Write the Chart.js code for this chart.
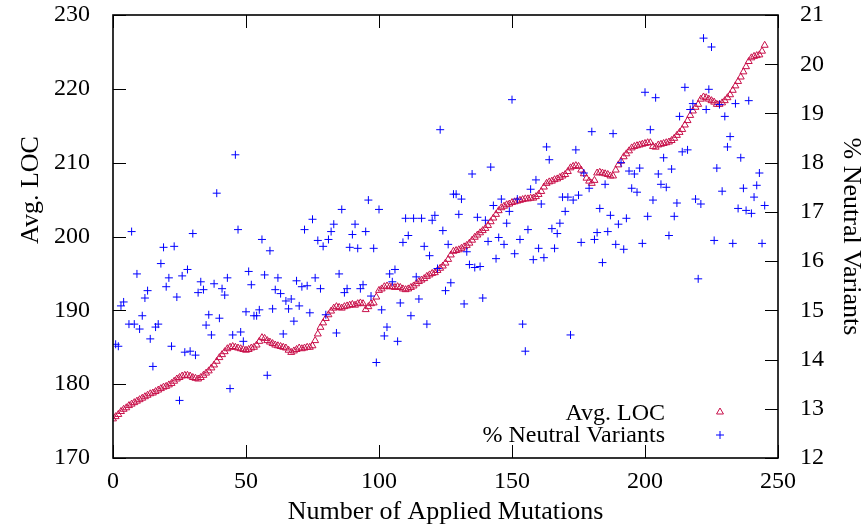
<!DOCTYPE html>
<html>
<head>
<meta charset="utf-8">
<script src="https://cdn.jsdelivr.net/npm/chart.js@4/dist/chart.umd.min.js"></script>
<style>
html,body{margin:0;padding:0;background:#fff;}
#wrap{width:864px;height:529px;position:relative;}
</style>
</head>
<body>
<div id="wrap"><canvas id="c" width="864" height="529"></canvas></div>
<script>
// ---- data ----
const xTitle = "Number of Applied Mutations";
const yTitle = "Avg. LOC";
const y2Title = "% Neutral Variants";
const legendLabels = ["Avg. LOC", "% Neutral Variants"];

// Avg. LOC, one value per mutation count 0..245
const avgLoc = [
175.3,175.6,175.9,176.3,176.6,176.8,177.1,177.3,177.5,177.7,
177.9,178.1,178.3,178.5,178.7,178.8,179.0,179.2,179.4,179.6,
179.7,179.9,180.1,180.4,180.7,180.9,181.1,181.2,181.2,181.1,
180.9,180.8,180.7,180.9,181.2,181.5,181.8,182.2,182.6,183.1,
183.6,184.0,184.4,184.8,185.0,185.1,185.0,184.9,184.8,184.7,
184.6,184.7,184.9,185.0,185.3,185.8,186.3,186.2,185.9,185.7,
185.5,185.3,185.2,185.1,185.0,184.9,184.6,184.3,184.5,184.7,
184.9,184.8,184.9,185.0,185.0,185.2,185.9,186.8,187.7,188.3,
188.9,189.4,189.9,190.3,190.5,190.4,190.3,190.5,190.6,190.7,
190.8,190.7,190.9,191.0,190.9,190.1,190.5,190.9,191.0,191.8,
192.7,192.9,193.2,193.3,193.2,193.2,193.1,193.2,193.1,192.9,
192.8,192.9,193.1,193.3,193.6,193.9,194.1,194.3,194.6,194.8,
195.0,195.1,195.4,195.7,196.0,196.4,196.9,197.5,198.0,198.1,
198.2,198.4,198.6,198.8,199.1,199.5,199.9,200.2,200.5,200.8,
201.1,201.5,202.0,202.5,203.0,203.5,203.9,204.1,204.3,204.4,
204.6,204.7,204.8,204.9,205.0,205.1,205.1,205.2,205.2,205.4,
205.7,206.1,206.7,207.2,207.4,207.5,207.7,207.8,208.0,208.2,
208.4,208.8,209.3,209.5,209.6,209.5,209.0,208.5,207.9,207.5,
207.2,207.6,208.6,208.7,208.6,208.5,208.4,208.2,208.2,209.0,
209.7,210.2,210.8,211.2,211.6,212.0,212.2,212.3,212.4,212.5,
212.6,212.7,212.7,212.2,212.1,212.4,212.5,212.6,212.7,212.8,
213.0,213.3,213.7,214.1,214.5,215.1,215.7,216.4,217.0,217.5,
217.9,218.6,218.9,218.8,218.6,218.4,218.2,217.9,217.9,218.1,
218.4,218.8,219.2,219.8,220.4,221.0,221.6,222.3,223.0,223.7,
224.2,224.4,224.5,224.6,225.1,225.9
];

// % Neutral Variants: mutation counts and values
const neutralX = [
1,2,3,4,6,7,8,9,10,11,12,13,14,15,16,17,18,19,20,21,
22,23,24,25,26,27,28,29,30,31,32,33,34,35,36,37,38,39,40,41,
42,43,44,45,46,47,48,49,50,51,52,53,54,55,56,57,58,59,60,61,
62,63,64,65,66,67,68,69,70,71,72,73,74,75,76,77,78,79,80,81,
82,83,84,85,86,87,88,89,90,91,92,93,94,95,96,97,98,99,100,101,
102,103,104,105,106,107,108,109,110,111,112,113,114,115,116,117,118,119,120,121,
122,123,124,125,126,127,128,129,130,131,132,133,134,135,136,137,138,139,140,141,
142,143,144,145,146,147,148,149,150,151,152,153,154,155,156,157,158,159,160,161,
162,163,164,165,166,167,168,169,170,171,172,173,174,175,176,177,179,180,181,182,
183,184,185,186,187,188,189,190,191,192,193,194,195,196,197,198,199,200,201,202,
203,204,205,206,207,208,209,210,211,212,213,214,215,216,217,218,219,220,221,222,
223,224,225,226,227,228,229,230,231,232,233,234,235,236,237,238,239,240,241,242,
243,244,245
];
const neutralY = [
14.31,14.27,15.09,15.17,14.72,16.60,14.72,15.74,14.62,14.89,15.25,15.40,14.42,13.86,14.66,14.72,15.95,16.28,15.48,15.66,
14.27,16.30,15.27,13.17,15.70,14.15,15.83,14.17,16.56,14.09,15.36,15.58,15.42,14.70,14.91,14.50,15.54,17.38,14.84,15.44,
15.31,15.66,13.41,14.50,18.16,16.64,14.56,14.37,14.97,15.79,15.52,14.89,14.89,15.01,16.44,15.72,13.68,16.21,15.03,15.42,
15.66,15.34,14.52,15.19,15.03,15.23,14.78,15.60,15.09,15.48,16.64,15.50,14.95,16.85,15.66,16.42,15.44,16.30,14.91,16.44,
16.60,16.75,14.54,15.74,17.05,15.36,15.44,16.28,16.54,16.75,16.26,15.44,15.52,16.60,17.24,15.29,16.26,13.94,17.05,15.01,
14.48,14.66,15.74,15.58,15.83,14.37,15.15,16.38,16.87,16.52,14.89,16.87,15.68,15.23,16.87,16.30,14.72,16.11,16.83,16.93,
15.85,18.67,16.62,15.40,16.34,15.56,17.36,17.36,16.95,17.26,15.13,16.19,15.93,17.77,15.87,16.89,15.89,15.25,16.83,16.40,
17.91,17.13,16.05,16.48,17.26,16.34,16.77,17.01,19.28,16.15,17.26,16.44,14.72,14.17,16.64,17.46,16.03,17.65,16.26,17.16,
16.07,18.32,18.06,16.66,16.26,16.56,16.77,17.30,17.01,17.30,14.50,17.24,18.26,17.34,16.38,17.79,17.48,18.63,16.44,16.58,
17.07,15.97,17.56,16.60,16.93,18.59,16.34,16.75,18.00,16.24,16.87,17.83,17.48,17.77,17.40,17.89,16.36,19.43,16.91,18.67,
17.24,19.32,17.77,17.56,18.10,17.50,16.52,17.87,16.91,17.18,18.94,18.22,19.53,18.26,19.08,19.20,17.26,15.64,17.16,20.53,
19.08,19.49,20.35,16.42,17.89,19.18,17.42,18.94,18.32,18.53,16.36,19.20,17.07,18.10,17.48,17.03,19.26,16.97,17.30,17.54,
17.79,16.36,17.13
];

const xTicks = [0, 50, 100, 150, 200, 250];
const yTicks = [170, 180, 190, 200, 210, 220, 230];
const y2Ticks = [12, 13, 14, 15, 16, 17, 18, 19, 20, 21];

// ---- styling ----
const FONT = "'Liberation Serif', 'Times New Roman', serif";
const RED = '#c8104a';
const BLUE = '#0000ff';

const locPoints = avgLoc.map((v, i) => ({x: i, y: v}));
const neutralPoints = neutralX.map((x, i) => ({x: x, y: neutralY[i]}));

const framePlugin = {
  id: 'frame',
  afterDraw(chart) {
    const ctx = chart.ctx;
    const a = chart.chartArea;
    const sx = chart.scales.x, sy = chart.scales.y, sy2 = chart.scales.y2;
    ctx.save();
    ctx.strokeStyle = '#000';
    ctx.lineWidth = 1;
    const TL = 13;
    ctx.beginPath();
    xTicks.forEach(t => {
      const px = Math.round(sx.getPixelForValue(t)) + 0.5;
      ctx.moveTo(px, a.bottom); ctx.lineTo(px, a.bottom - TL);
      ctx.moveTo(px, a.top); ctx.lineTo(px, a.top + TL);
    });
    yTicks.forEach(t => {
      const py = Math.round(sy.getPixelForValue(t)) + 0.5;
      ctx.moveTo(a.left, py); ctx.lineTo(a.left + TL, py);
    });
    y2Ticks.forEach(t => {
      const py = Math.round(sy2.getPixelForValue(t)) + 0.5;
      ctx.moveTo(a.right, py); ctx.lineTo(a.right - TL, py);
    });
    ctx.stroke();
    ctx.lineWidth = 1.6;
    ctx.strokeRect(a.left, a.top, a.right - a.left, a.bottom - a.top);

    ctx.fillStyle = '#000';
    ctx.font = '26px ' + FONT;
    ctx.textAlign = 'center';
    ctx.textBaseline = 'middle';
    ctx.fillText(xTitle, (a.left + a.right) / 2, 512);
    ctx.save();
    ctx.translate(31, 190);
    ctx.rotate(-Math.PI / 2);
    ctx.fillText(yTitle, 0, 0);
    ctx.restore();
    ctx.save();
    ctx.translate(851, (a.top + a.bottom) / 2);
    ctx.rotate(Math.PI / 2);
    ctx.fillText(y2Title, 0, 0);
    ctx.restore();

    ctx.font = '24px ' + FONT;
    ctx.textAlign = 'right';
    ctx.textBaseline = 'alphabetic';
    ctx.fillText(legendLabels[0], 665, 420);
    ctx.fillText(legendLabels[1], 665, 442);
    ctx.lineWidth = 1;
    const r = 4, tx = 720, ty = 412;
    ctx.strokeStyle = RED;
    ctx.beginPath();
    ctx.moveTo(tx, ty - r);
    ctx.lineTo(tx + r * Math.sin(2 * Math.PI / 3), ty - r * Math.cos(2 * Math.PI / 3));
    ctx.lineTo(tx + r * Math.sin(4 * Math.PI / 3), ty - r * Math.cos(4 * Math.PI / 3));
    ctx.closePath();
    ctx.stroke();
    ctx.strokeStyle = BLUE;
    ctx.beginPath();
    ctx.moveTo(716, 435); ctx.lineTo(724, 435);
    ctx.moveTo(720, 431); ctx.lineTo(720, 439);
    ctx.stroke();
    ctx.restore();
  }
};

new Chart(document.getElementById('c'), {
  type: 'scatter',
  data: {
    datasets: [
      {
        label: legendLabels[0],
        data: locPoints,
        yAxisID: 'y',
        pointStyle: 'triangle',
        pointRadius: 4,
        pointBorderWidth: 1,
        borderColor: RED,
        backgroundColor: 'rgba(0,0,0,0)',
        pointBackgroundColor: 'rgba(0,0,0,0)',
        order: 2
      },
      {
        label: legendLabels[1],
        data: neutralPoints,
        yAxisID: 'y2',
        pointStyle: 'cross',
        pointRadius: 4,
        pointBorderWidth: 1,
        borderColor: BLUE,
        backgroundColor: BLUE,
        order: 1
      }
    ]
  },
  options: {
    responsive: false,
    animation: false,
    devicePixelRatio: 1,
    layout: {padding: {top: 15, left: 0, right: 0, bottom: 0}},
    plugins: {legend: {display: false}, tooltip: {enabled: false}},
    scales: {
      x: {
        type: 'linear', min: 0, max: 250,
        afterBuildTicks: s => { s.ticks = xTicks.map(v => ({value: v})); },
        afterFit: s => { s.height = 71; s.paddingLeft = 0; s.paddingRight = 0; },
        grid: {display: false, drawTicks: false},
        border: {display: false},
        ticks: {color: '#000', padding: 9, font: {family: FONT, size: 24}, maxRotation: 0}
      },
      y: {
        type: 'linear', position: 'left', min: 170, max: 230,
        afterBuildTicks: s => { s.ticks = yTicks.map(v => ({value: v})); },
        afterFit: s => { s.width = 113; s.paddingTop = 0; s.paddingBottom = 0; },
        grid: {display: false, drawTicks: false},
        border: {display: false},
        ticks: {color: '#000', padding: 23, font: {family: FONT, size: 24}}
      },
      y2: {
        type: 'linear', position: 'right', min: 12, max: 21,
        afterBuildTicks: s => { s.ticks = y2Ticks.map(v => ({value: v})); },
        afterFit: s => { s.width = 86; s.paddingTop = 0; s.paddingBottom = 0; },
        grid: {display: false, drawTicks: false},
        border: {display: false},
        ticks: {color: '#000', padding: 22, font: {family: FONT, size: 24}}
      }
    }
  },
  plugins: [framePlugin]
});
</script>
</body>
</html>
